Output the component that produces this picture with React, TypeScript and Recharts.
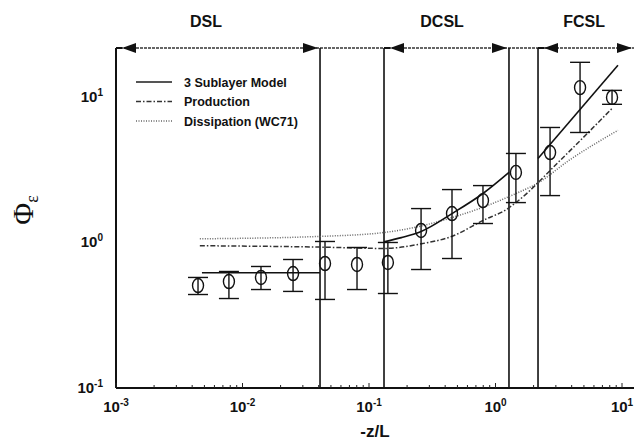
import React from 'react';
import {
  ComposedChart, XAxis, YAxis, Line, Scatter, ErrorBar,
  ReferenceLine, ReferenceDot, Legend, Label,
} from 'recharts';

const FONT = '"Liberation Sans", Arial, Helvetica, sans-serif';

// axis domains
const X_DOMAIN = [0.001, 12.44];
const Y_DOMAIN = [0.1, 21.7];

// tick values
const xDecades = [0.001, 0.01, 0.1, 1, 10];
const minorMultipliers = [2, 3, 4, 5, 6, 7, 8, 9];
const yTicks = [0.1, 1, 10];

// measured Phi_epsilon with error bars
const obsX = [0.00445, 0.00781, 0.014, 0.0251, 0.0449, 0.0804, 0.141, 0.258, 0.453, 0.796, 1.45, 2.7, 4.66, 8.34];
const obsY = [0.506, 0.539, 0.575, 0.612, 0.717, 0.706, 0.729, 1.21, 1.58, 1.94, 3.03, 4.15, 11.6, 9.93];
const obsLo = [0.439, 0.412, 0.475, 0.461, 0.406, 0.475, 0.446, 0.652, 0.776, 1.35, 1.88, 2.1, 5.7, 8.9];
const obsHi = [0.575, 0.632, 0.684, 0.764, 1.016, 0.924, 1.0, 1.71, 2.31, 2.46, 4.09, 6.17, 17.3, 11.1];

// 3 sublayer model, one piece per sublayer
const modelDSL = [
  { x: 0.00478, y: 0.62 },
  { x: 0.041, y: 0.62 },
];
const modelDCSL = [
  { x: 0.1314, y: 1.01 },
  { x: 0.18, y: 1.08 },
  { x: 0.258, y: 1.19 },
  { x: 0.453, y: 1.58 },
  { x: 0.796, y: 2.17 },
  { x: 1.278, y: 3.03 },
];
const modelFCSL = [
  { x: 2.168, y: 3.78 },
  { x: 9.29, y: 16.5 },
];

// production term
const production = [
  { x: 0.0046, y: 0.95 },
  { x: 0.04, y: 0.93 },
  { x: 0.13, y: 0.91 },
  { x: 0.26, y: 0.98 },
  { x: 0.45, y: 1.1 },
  { x: 0.8, y: 1.42 },
  { x: 1.25, y: 1.71 },
  { x: 1.45, y: 1.88 },
  { x: 3.24, y: 3.66 },
  { x: 8.3, y: 8.3 },
];

// dissipation (WC71)
const dissipation = [
  { x: 0.0046, y: 1.06 },
  { x: 0.04, y: 1.1 },
  { x: 0.13, y: 1.17 },
  { x: 0.26, y: 1.3 },
  { x: 0.45, y: 1.48 },
  { x: 0.8, y: 1.75 },
  { x: 1.45, y: 2.17 },
  { x: 2.13, y: 2.54 },
  { x: 3.8, y: 3.66 },
  { x: 9.3, y: 5.9 },
];

// sublayer boundaries
const boundaries = [0.041, 0.1314, 1.278, 2.168];

// region arrows along the top
const arrowX = [0.001, 0.041, 0.1314, 1.278, 2.168, 12.44];
const arrowDir = ['left', 'right', 'left', 'right', 'left', 'right'];

// region labels
const regionNames = ['DSL', 'DCSL', 'FCSL'];
const regionX = [0.00515, 0.378, 5.01];

const legendNames = ['3 Sublayer Model', 'Production', 'Dissipation (WC71)'];

const obsData = obsX.map((x, i) => ({ x, y: obsY[i], err: [obsY[i] - obsLo[i], obsHi[i] - obsY[i]] }));
const xTicks = [
  ...xDecades,
  ...xDecades.slice(0, 4).flatMap((d) => minorMultipliers.map((m) => d * m)),
];
const arrows = arrowX.map((x, i) => ({ x, dir: arrowDir[i] }));
const regions = regionNames.map((name, i) => ({ name, x: regionX[i] }));

const isDecade = (v: number) => xDecades.some((d) => Math.abs(d - v) / d < 1e-6);
const expOf = (v: number) => Math.round(Math.log10(v));

const XTick = (props: any) => {
  const { x, y, payload } = props;
  const v = payload.value;
  const major = isDecade(v);
  return (
    <g>
      <line x1={x} x2={x} y1={y} y2={y - (major ? 5 : 3)} stroke="#222" strokeWidth={1} />
      {major && (
        <text x={x} y={y + 24} textAnchor="middle" fontFamily={FONT} fontWeight="bold" fontSize={15} fill="#111">
          10<tspan fontSize={10} dy={-6}>{expOf(v)}</tspan>
        </text>
      )}
    </g>
  );
};

const YTick = (props: any) => {
  const { x, y, payload } = props;
  return (
    <text x={x - 13} y={y + 5} textAnchor="end" fontFamily={FONT} fontWeight="bold" fontSize={15} fill="#111">
      10<tspan fontSize={10} dy={-6}>{expOf(payload.value)}</tspan>
    </text>
  );
};

const Ellipse = (props: any) => (
  <ellipse cx={props.cx} cy={props.cy} rx={5.5} ry={7} fill="none" stroke="#111" strokeWidth={1.4} />
);

const Arrow = (dir: string) => (props: any) => {
  const { cx, cy } = props;
  if (dir === 'left') {
    const tip = cx + 6;
    return (
      <g>
        <line x1={cx} x2={tip} y1={cy} y2={cy} stroke="#111" strokeWidth={2} />
        <polygon points={`${tip},${cy} ${tip + 14},${cy - 5} ${tip + 14},${cy + 5}`} fill="#111" />
      </g>
    );
  }
  const tip = cx - 2;
  return (
    <polygon points={`${tip},${cy} ${tip - 15},${cy - 5} ${tip - 15},${cy + 5}`} fill="#111" />
  );
};

const RegionLabel = (name: string) => (props: any) => (
  <text x={props.cx} y={props.cy - 21} textAnchor="middle" fontFamily={FONT} fontWeight="bold" fontSize={16} fill="#111">
    {name}
  </text>
);

const legendStyles = [
  { stroke: '#555', dash: undefined, width: 2 },
  { stroke: '#333', dash: '5 2 1.5 2', width: 1.5 },
  { stroke: '#666', dash: '1 1.5', width: 1.5 },
];

const LegendContent = () => (
  <svg width={200} height={60}>
    {legendNames.map((name, i) => {
      const cy = 8 + i * 19.5;
      const st = legendStyles[i];
      return (
        <g key={name}>
          <line x1={0} x2={36} y1={cy} y2={cy} stroke={st.stroke} strokeWidth={st.width} strokeDasharray={st.dash} />
          <text x={48} y={cy + 4.5} fontFamily={FONT} fontWeight="bold" fontSize={12.5} fill="#111">
            {name}
          </text>
        </g>
      );
    })}
  </svg>
);

const YLabelContent = () => {
  const cx = 33;
  const cy = 210;
  return (
    <text
      x={cx}
      y={cy}
      transform={`rotate(-90, ${cx}, ${cy})`}
      textAnchor="middle"
      fontFamily='"Liberation Serif", "DejaVu Serif", serif'
      fontSize={30}
      fill="#111"
    >
      Φ<tspan fontSize={18} dy={5}>ε</tspan>
    </text>
  );
};

const XLabelContent = (props: any) => {
  const vb = props.viewBox || { x: 116, width: 518 };
  return (
    <text x={vb.x + vb.width / 2} y={437} textAnchor="middle" fontFamily={FONT} fontWeight="bold" fontSize={17} fill="#111">
      -z/L
    </text>
  );
};

export default function App() {
  return (
    <div style={{ position: 'absolute', left: 0, top: 0, width: 636, height: 444, background: '#fff' }}>
      <ComposedChart width={636} height={444} margin={{ top: 48, right: 2, bottom: 0, left: 56 }}>
        <XAxis
          dataKey="x"
          type="number"
          scale="log"
          domain={X_DOMAIN}
          allowDataOverflow
          ticks={xTicks}
          interval={0}
          tick={<XTick />}
          tickLine={false}
          tickSize={0}
          tickMargin={0}
          height={56}
          axisLine={{ stroke: '#111', strokeWidth: 2 }}
        >
          <Label content={<XLabelContent />} />
        </XAxis>
        <YAxis
          type="number"
          scale="log"
          domain={Y_DOMAIN}
          allowDataOverflow
          ticks={yTicks}
          interval={0}
          tick={<YTick />}
          tickLine={false}
          tickSize={0}
          tickMargin={0}
          width={60}
          axisLine={{ stroke: '#111', strokeWidth: 2 }}
        >
          <Label content={<YLabelContent />} />
        </YAxis>

        <ReferenceLine y={Y_DOMAIN[1]} stroke="#666" strokeWidth={2} strokeDasharray="3 1" ifOverflow="visible" />
        {boundaries.map((b) => (
          <ReferenceLine key={b} x={b} stroke="#111" strokeWidth={1.6} ifOverflow="visible" />
        ))}
        {arrows.map((a, i) => (
          <ReferenceDot key={`a${i}`} x={a.x} y={Y_DOMAIN[1]} r={0} ifOverflow="visible" shape={Arrow(a.dir)} />
        ))}
        {regions.map((r) => (
          <ReferenceDot key={r.name} x={r.x} y={Y_DOMAIN[1]} r={0} ifOverflow="visible" shape={RegionLabel(r.name)} />
        ))}

        <Line data={dissipation} dataKey="y" type="monotone" stroke="#666" strokeWidth={1.5} strokeDasharray="1 1.5" dot={false} isAnimationActive={false} />
        <Line data={production} dataKey="y" type="monotone" stroke="#333" strokeWidth={1.5} strokeDasharray="5 2 1.5 2" dot={false} isAnimationActive={false} />
        <Line data={modelDSL} dataKey="y" type="linear" stroke="#111" strokeWidth={1.6} dot={false} isAnimationActive={false} />
        <Line data={modelDCSL} dataKey="y" type="monotone" stroke="#111" strokeWidth={1.6} dot={false} isAnimationActive={false} />
        <Line data={modelFCSL} dataKey="y" type="linear" stroke="#111" strokeWidth={1.6} dot={false} isAnimationActive={false} />

        <Scatter data={obsData} dataKey="y" shape={<Ellipse />} isAnimationActive={false}>
          <ErrorBar dataKey="err" direction="y" width={10} stroke="#111" strokeWidth={1.4} isAnimationActive={false} />
        </Scatter>

        <Legend
          layout="vertical"
          align="center"
          verticalAlign="middle"
          content={<LegendContent />}
          wrapperStyle={{ left: 136, top: 74, width: 200, height: 60 }}
        />
      </ComposedChart>
    </div>
  );
}
